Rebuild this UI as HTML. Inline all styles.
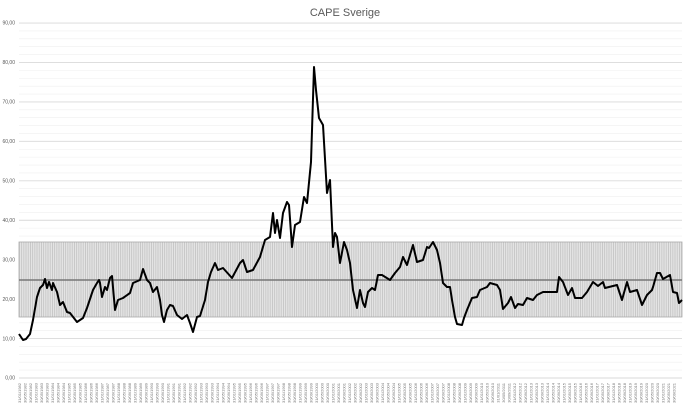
<!DOCTYPE html>
<html><head><meta charset="utf-8"><style>
html,body{margin:0;padding:0;background:#fff;}
svg{display:block;font-family:"Liberation Sans",sans-serif;}
</style></head><body>
<svg id="s" width="690" height="408" viewBox="0 0 690 408" xmlns="http://www.w3.org/2000/svg">
<defs>
<pattern id="hatch" width="2.2" height="10" patternUnits="userSpaceOnUse" x="19">
<rect width="2.2" height="10" fill="#e4e4e4"/>
<rect width="0.8" height="10" fill="#c2c2c2"/>
</pattern>
</defs>
<rect x="0" y="0" width="690" height="408" fill="#fff"/>
<text x="345" y="16" font-size="11" fill="#595959" text-anchor="middle">CAPE Sverige</text>
<g id="grid"></g>
<rect x="19" y="242" width="663" height="75" fill="url(#hatch)" stroke="#aaa" stroke-width="0.8"/>
<line x1="19" y1="280" x2="682" y2="280" stroke="#777" stroke-width="1.5"/>
<g id="ylab" font-size="5" fill="#595959" text-anchor="end"></g>
<g id="xlab" font-size="4" fill="#777"></g>
<polyline fill="none" stroke="#000" stroke-width="2" stroke-linejoin="round" points="
19,334 23,340 26,339 30,334 33,320 37,297 40,288 43,285 45,279 47,288 49,282 52,290 53,283 57,292 60,305 63,302 67,312 70,313 77,322 83,318 87,308 93,290 97,283 99,280 100,283 102,297 105,287 107,290 110,278 112,276 115,310 118,300 123,298 130,293 133,283 140,280 143,269 147,280 150,283 153,292 157,287 160,300 162,315 164,322 167,310 170,305 173,306 177,315 182,319 187,315 190,323 193,332 197,317 200,316 205,300 208,282 211,272 215,263 218,270 223,268 232,278 240,263 243,260 247,272 253,270 260,257 265,240 270,237 273,213 275,233 277,220 280,238 283,213 287,202 289,205 292,247 295,225 300,222 304,197 307,203 311,162 314,67 316,90 319,118 323,125 327,193 330,180 333,247 335,233 337,237 340,263 344,242 347,250 350,263 353,290 357,308 360,290 363,303 365,307 368,292 372,288 375,290 378,275 382,275 390,280 395,273 400,267 403,257 407,265 413,245 417,262 423,260 427,247 429,248 433,242 437,250 440,263 443,283 447,287 450,287 452,300 455,317 457,324 462,325 464,318 467,310 472,298 477,297 480,290 487,287 490,283 497,285 500,290 503,309 508,303 511,297 515,308 518,304 523,305 527,298 533,300 537,295 543,292 557,292 559,277 563,282 568,295 572,288 575,298 582,298 587,292 593,282 598,286 603,282 605,288 617,285 622,300 627,282 630,292 637,290 642,305 647,295 652,290 653,287 657,273 660,273 663,279 670,275 673,292 677,293 679,303 682,300"/>
</svg>
<script>
var ns="http://www.w3.org/2000/svg";
function y(v){return 378-3.944*v;}
var g=document.getElementById('grid'),yl=document.getElementById('ylab'),xl=document.getElementById('xlab');
for(var v=0;v<=90;v+=2){var l=document.createElementNS(ns,'line');l.setAttribute('x1',19);l.setAttribute('x2',682);l.setAttribute('y1',y(v));l.setAttribute('y2',y(v));l.setAttribute('stroke',v%10==0?'#d9d9d9':'#efefef');l.setAttribute('stroke-width',v%10==0?0.9:0.6);g.appendChild(l);
if(v%10==0){var t=document.createElementNS(ns,'text');t.setAttribute('x',15);t.setAttribute('y',y(v)+1.7);t.textContent=v+',00';yl.appendChild(t);}}
for(var i=0;i<120;i++){var x=21+i*5.5;var yr=1982+Math.floor(i/3);var t=document.createElementNS(ns,'text');t.setAttribute('transform','translate('+x+',383) rotate(-90)');t.setAttribute('text-anchor','end');var m=['31/01','30/05','30/09'][i%3];t.textContent=m+'/'+yr;xl.appendChild(t);}
</script>
</body></html>
